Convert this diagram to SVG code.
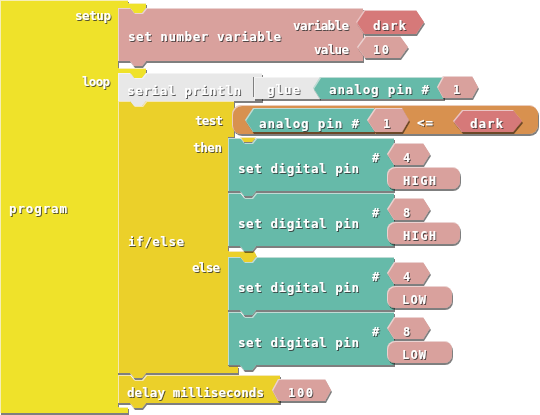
<svg xmlns="http://www.w3.org/2000/svg" width="540" height="415" viewBox="0 0 540 415">
<defs>
<filter id="bev" filterUnits="userSpaceOnUse" x="0" y="0" width="540" height="415">
<feOffset in="SourceAlpha" dx="1" dy="1.5" result="o"/>
<feFlood flood-color="#000" flood-opacity="0.5"/>
<feComposite in2="o" operator="in" result="sh"/>
<feOffset in="SourceAlpha" dx="1" dy="1" result="o2"/>
<feComposite in="SourceAlpha" in2="o2" operator="out" result="e"/>
<feFlood flood-color="#fff" flood-opacity="0.45"/>
<feComposite in2="e" operator="in" result="hl"/>
<feMerge><feMergeNode in="sh"/><feMergeNode in="SourceGraphic"/><feMergeNode in="hl"/></feMerge>
</filter>
<filter id="ts" filterUnits="userSpaceOnUse" x="0" y="0" width="540" height="415">
<feDropShadow dx="1" dy="1" stdDeviation="0" flood-color="#333" flood-opacity="0.8"/>
</filter>
</defs>
<style>
.b{filter:url(#bev)}
.py{fill:#EFE22B}.gy{fill:#EBD02C}.pk{fill:#D9A19D}.dk{fill:#D67979}.tl{fill:#66BAA9}.or{fill:#D8914F}.gr{fill:#E8E8E8}
text{font-family:"DejaVu Sans Mono","Liberation Mono",monospace;font-weight:bold;font-size:12.5px;fill:#fff;filter:url(#ts)}
.s{font-size:12px}
</style>

<g id="program">
<path class="b py" d="M0,0 H128 V3 H146 V8 L142,13 H134 L130,8 H118 V68 H146 V73 L142,78 H134 L130,73 H118 V407 H128 V413 H0 Z"/>
<text x="75" y="20" textLength="36">setup</text>
<text x="82" y="86" textLength="28">loop</text>
<text x="9" y="213" textLength="58">program</text>
</g>

<g id="set-number-variable">
<path class="b pk" d="M118,8 H130 L134,13 H142 L146,8 H363 V61 H146 L142,66 H134 L130,61 H118 Z"/>
<text x="128" y="41" textLength="153">set number variable</text>
<text x="293" y="30" textLength="56">variable</text>
<text x="314" y="54" textLength="35">value</text>
</g>
<g id="var-dark">
<path class="b dk" d="M356,22 L364,10 H416 L424,22 L416,34 H364 Z"/>
<text x="373" y="30" textLength="33">dark</text>
</g>
<g id="num-10">
<path class="b pk" d="M357,47 L365,36 H400 L408,47 L400,58 H365 Z"/>
<text class="s" x="373" y="54" textLength="16">10</text>
</g>

<g id="serial-println">
<path class="b gr" d="M118,73 H130 L134,78 H142 L146,73 H262 V77 H253 V97 H262 V101 H146 L142,106 H134 L130,101 H118 Z"/>
<text x="127" y="95" textLength="114">serial println</text>
</g>
<g id="glue">
<path class="b gr" d="M254,77 H320 V99 H254 Z"/>
<text x="267" y="94" textLength="33">glue</text>
</g>
<g id="analog-pin-1">
<path class="b tl" d="M313,88 L320,77 H444 V99 H320 Z"/>
<text x="329" y="94" textLength="100">analog pin #</text>
</g>
<g id="num-1a">
<path class="b pk" d="M437,87 L443,76 H472 L478,87 L472,98 H443 Z"/>
<text class="s" x="453" y="94">1</text>
</g>

<g id="if-else">
<path class="b gy" d="M118,101 H130 L134,106 H142 L146,101 H234 V137 H256 L252,142 H244 L240,137 H228 V251 H254 L257,257 H256 L252,262 H244 L240,257 H228 V366 H238 V373 H146 L142,378 H134 L130,373 H118 Z"/>
<text x="195" y="125" textLength="28">test</text>
<text x="193" y="152" textLength="29">then</text>
<text x="128" y="246" textLength="56">if/else</text>
<text x="192" y="272" textLength="28">else</text>
</g>
<g id="compare">
<rect class="b or" x="232" y="105" width="306" height="29" rx="9"/>
<text x="417" y="127" textLength="16">&lt;=</text>
</g>
<g id="analog-pin-2">
<path class="b tl" d="M245,120 L253,108 H374 V132 H253 Z"/>
<text x="259" y="128" textLength="100">analog pin #</text>
</g>
<g id="num-1b">
<path class="b pk" d="M367,120 L375,108 H402 L409,120 L402,132 H375 Z"/>
<text class="s" x="383" y="128">1</text>
</g>
<g id="var-dark-2">
<path class="b dk" d="M453,121 L462,110 H513 L522,121 L513,132 H462 Z"/>
<text x="470" y="128" textLength="33">dark</text>
</g>

<g id="digital-1">
<path class="b tl" d="M228,138 H240 L244,143 H252 L256,138 H394 V191 H256 L252,196 H244 L240,191 H228 Z"/>
<text x="238" y="173" textLength="121">set digital pin</text>
<text class="s" x="372" y="162">#</text>
<path class="b pk" d="M387,154 L394,143 H423 L430,154 L423,165 H394 Z"/>
<text class="s" x="403" y="162">4</text>
<rect class="b pk" x="387" y="167" width="73" height="22" rx="8"/>
<text class="s" x="403" y="185" textLength="33">HIGH</text>
</g>
<g id="digital-2">
<path class="b tl" d="M228,193 H240 L244,198 H252 L256,193 H394 V246 H256 L252,251 H244 L240,246 H228 Z"/>
<text x="238" y="228" textLength="121">set digital pin</text>
<text class="s" x="372" y="217">#</text>
<path class="b pk" d="M387,209 L394,198 H423 L430,209 L423,220 H394 Z"/>
<text class="s" x="403" y="217">8</text>
<rect class="b pk" x="387" y="222" width="73" height="22" rx="8"/>
<text class="s" x="403" y="240" textLength="33">HIGH</text>
</g>
<g id="digital-3">
<path class="b tl" d="M228,257 H240 L244,262 H252 L256,257 H394 V310 H256 L252,315 H244 L240,310 H228 Z"/>
<text x="238" y="292" textLength="121">set digital pin</text>
<text class="s" x="372" y="281">#</text>
<path class="b pk" d="M387,273 L394,262 H423 L430,273 L423,284 H394 Z"/>
<text class="s" x="403" y="281">4</text>
<rect class="b pk" x="387" y="286" width="65" height="22" rx="8"/>
<text class="s" x="402" y="304" textLength="24">LOW</text>
</g>
<g id="digital-4">
<path class="b tl" d="M228,312 H240 L244,317 H252 L256,312 H394 V365 H256 L252,370 H244 L240,365 H228 Z"/>
<text x="238" y="347" textLength="121">set digital pin</text>
<text class="s" x="372" y="336">#</text>
<path class="b pk" d="M387,328 L394,317 H423 L430,328 L423,339 H394 Z"/>
<text class="s" x="403" y="336">8</text>
<rect class="b pk" x="387" y="341" width="65" height="22" rx="8"/>
<text class="s" x="402" y="359" textLength="24">LOW</text>
</g>

<g id="delay">
<path class="b gy" d="M118,375 H130 L134,380 H142 L146,375 H280 V403 H146 L142,408 H134 L130,403 H118 Z"/>
<text x="127" y="397" textLength="137">delay milliseconds</text>
</g>
<g id="num-100">
<path class="b pk" d="M272,390 L278,379 H325 L331,390 L325,401 H278 Z"/>
<text class="s" x="288" y="397" textLength="25">100</text>
</g>

<g id="connectors"/>
</svg>
